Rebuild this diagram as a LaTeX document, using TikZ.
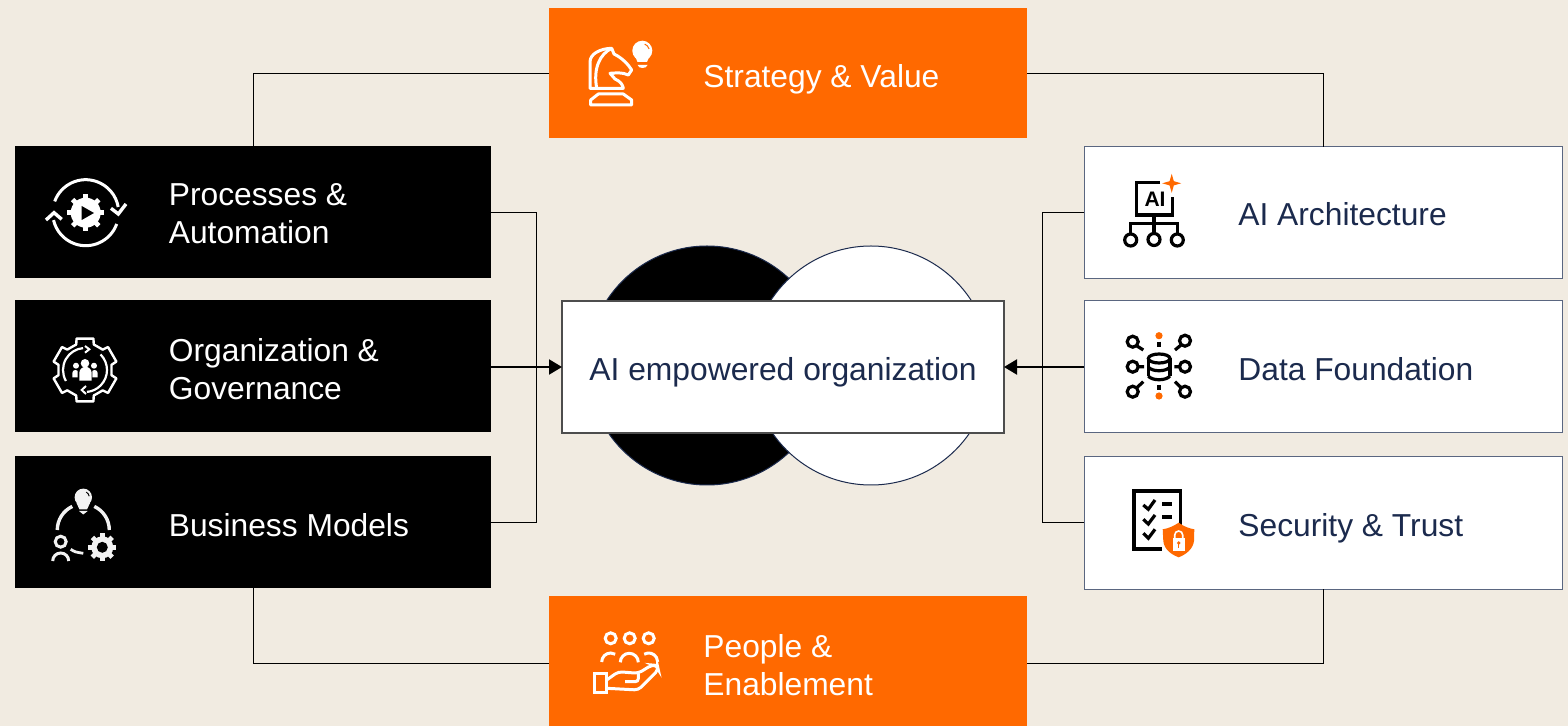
\documentclass[tikz,border=0pt]{standalone}
\usepackage{fontspec}
\setmainfont{Liberation Sans}
\usepackage{tikz}
\usetikzlibrary{arrows.meta}
\definecolor{sand}{HTML}{F1EBE1}
\definecolor{flame}{HTML}{FF6900}
\definecolor{navy}{HTML}{1B2A4D}
\definecolor{slate}{HTML}{5A6680}
\definecolor{ash}{HTML}{4D4D4D}
\def\blackoval{(707,365.5) circle (119.5)}
\def\whiteoval{(871,365.5) circle (119.5)}
\newcommand{\ringpart}[5]{({#1+#3*cos(#4)},{#2+#3*sin(#4)}) arc[start angle=#4,end angle=#5,radius=#3]}
\newcommand{\gearteeth}[5]{\foreach \a in {0,45,...,315}
	\draw[#5,line width=2.4pt,line cap=butt] ({#1+#3*cos(\a)},{#2+#3*sin(\a)}) -- ({#1+#4*cos(\a)},{#2+#4*sin(\a)});}
\tikzset{
	darkbox/.style={fill=black,minimum width=238pt,minimum height=66pt,inner sep=0pt,outer sep=0pt},
	lightbox/.style={fill=white,draw=slate,line width=.5pt,minimum width=239pt,minimum height=66pt,inner sep=0pt,outer sep=0pt},
	flamebox/.style={fill=flame,minimum width=239pt,minimum height=65pt,inner sep=0pt,outer sep=0pt},
	hubbox/.style={fill=white,draw=ash,line width=.6pt,minimum width=221pt,minimum height=66pt,inner sep=0pt,outer sep=0pt,text=navy,text height=16.5pt,text depth=3.3pt,font=\fontsize{15.9}{19}\selectfont},
	caption/.style={anchor=west,align=left,inner sep=0pt,font=\fontsize{15.88}{19.1}\selectfont},
	link/.style={draw=black,line width=.5pt},
	feed/.style={draw=black,line width=1pt,-{Triangle[length=6.5pt,width=7.5pt]}},
	iconw/.style={draw=white,line width=1.5pt},
	iconk/.style={draw=black,line width=1.6pt}
}

\begin{document}
\begin{tikzpicture}[x=.5pt,y=-.5pt]
			\useasboundingbox (0,0) rectangle (1568,726);
			\fill[sand] (0,0) rectangle (1568,726);
			\fill[black,draw=navy,line width=.5pt] \blackoval;
			\fill[white,draw=navy,line width=.5pt] \whiteoval;

			\node[flamebox] (strategy) at (788,73) {};
			\node[flamebox] (people) at (788,661) {};
			\node[darkbox] (process) at (253,212) {};
			\node[darkbox] (governance) at (253,366) {};
			\node[darkbox] (business) at (253,522) {};
			\node[lightbox] (architecture) at (1323,213) {};
			\node[lightbox] (data) at (1323,367) {};
			\node[lightbox] (security) at (1323,523) {};
			\node[hubbox] (hub) at (783,367) {AI empowered organization};

			\node[caption,text=white] (strategytext) at (703,79) {Strategy \& Value};
			\node[caption,text=white] (peopletext) at (703,665) {People \&\\Enablement};
			\node[caption,text=white] (processtext) at (168.5,214) {Processes \&\\Automation};
			\node[caption,text=white] (governancetext) at (168.5,369) {Organization \&\\Governance};
			\node[caption,text=white] (businesstext) at (168.5,525) {Business Models};
			\node[caption,text=navy] (architecturetext) at (1238,214) {AI Architecture};
			\node[caption,text=navy] (datatext) at (1238,369) {Data Foundation};
			\node[caption,text=navy] (securitytext) at (1238,528) {Security \& Trust};

			\draw[link] ([yshift=-.3pt]strategy.west) -| (process.north);
			\draw[link] ([yshift=-.3pt]strategy.east) -| (architecture.north);
			\draw[link] ([yshift=-1pt]people.west) -| (business.south);
			\draw[link] ([yshift=-1pt]people.east) -| (security.south);
			\draw[link] ([yshift=-.5pt]process.east) -- ++(45.5,0) |- ([yshift=-.5pt]business.east);
			\draw[link] (architecture.west) -- ++(-41.5,0) |- (security.west);
			\draw[feed] (governance.east) ++(0,1) -- (hub.west);
			\draw[feed] (data.west) -- (hub.east);

			\fill[white] (85.7,212.7) circle (15);
			\gearteeth{85.7}{212.7}{13}{18.5}{white}
			\fill[black] (81.7,206) -- (94,213) -- (81.7,220) -- cycle;
			\draw[iconw] \ringpart{85.7}{212.7}{33}{200}{350};
			\draw[iconw] \ringpart{85.7}{212.7}{33}{20}{167};
			\draw[iconw,line width=1.7pt] (111,208.3) -- (118.3,214) -- (126,204);
			\draw[iconw,line width=1.7pt] (46,220) -- (54,212.7) -- (61.7,219.3);

			\foreach \a in {30,90,...,330}
				\draw[iconw,line cap=round,line join=round,line width=1.2pt]
					({85+27*cos(\a-19)},{370+27*sin(\a-19)}) -- ({85+32.5*cos(\a-15)},{370+32.5*sin(\a-15)})
					-- ({85+32.5*cos(\a+15)},{370+32.5*sin(\a+15)}) -- ({85+27*cos(\a+19)},{370+27*sin(\a+19)})
					-- ({85+27*cos(\a+41)},{370+27*sin(\a+41)});
			\draw[iconw,line width=1.1pt] \ringpart{85}{370}{22}{150}{265};
			\draw[iconw,line width=1.1pt] \ringpart{85}{370}{22}{-45}{85};
			\draw[iconw,line width=1pt] (85,346) -- (89.3,349.3) -- (85,352.7);
			\draw[iconw,line width=1pt] (86,386) -- (81.7,390) -- (86,394);
			\fill[white] (85,363.3) circle (4.3) (76,365.7) circle (3) (94,365.7) circle (3);
			\fill[white] (79.3,380.7) -- (79.3,373) arc[start angle=180,end angle=360,radius=6.2] -- (91.7,380.7) -- cycle;
			\fill[white] (72.3,377.3) -- (72.3,373) arc[start angle=180,end angle=300,radius=3] -- (77.7,371) -- (77.7,377.3) -- cycle;
			\fill[white] (97.7,377.3) -- (97.7,373) arc[start angle=0,end angle=-120,radius=3] -- (92.3,371) -- (92.3,377.3) -- cycle;

			\fill[white!95!black] (83.3,497.3) circle (8.7);
			\fill[white!95!black] (76.5,503) -- (90,503) -- (87,509.5) -- (79.5,509.5) -- cycle;
			\fill[white!95!black] (79,511) -- (87.7,511) -- (83.3,514.5) -- cycle;
			\draw[black,line width=.5pt] \ringpart{83.3}{497.3}{6}{-60}{-10};
			\draw[draw=white!95!black,line width=1.7pt] \ringpart{83.3}{530}{26}{180}{245};
			\draw[draw=white!95!black,line width=1.7pt] \ringpart{83.3}{530}{26}{295}{360};
			\draw[draw=white!95!black,line width=1.4pt] (70.7,549.3) .. controls (75,552) .. (83.3,553.3);
			\draw[draw=white!95!black,line width=1.5pt] (60.7,541.7) circle (5.5);
			\draw[draw=white!95!black,line width=1.5pt] \ringpart{60.7}{561}{8}{180}{360};
			\fill[white!95!black] (102.3,547.3) circle (11);
			\gearteeth{102.3}{547.3}{9}{14}{white!95!black}
			\fill[black] (102.3,547.3) circle (5.5);

			\draw[iconk] (1160,182.3) -- (1136.7,182.3) -- (1136.7,215) -- (1172.7,215) -- (1172.7,196.7);
			\node[inner sep=0pt,font=\fontsize{10.5}{11}\bfseries\selectfont] (aimark) at (1155,199) {AI};
			\draw[iconk] (1154,215) -- (1154,233.5);
			\draw[iconk] (1130.7,234) -- (1130.7,223.3) -- (1177.3,223.3) -- (1177.3,234);
			\draw[iconk] (1130.7,240) circle (6) (1154,239.5) circle (6) (1177.3,240) circle (6);
			\fill[flame] (1171.7,173.8) -- (1173.8,181.2) -- (1181.2,183.3) -- (1173.8,185.4) -- (1171.7,192.8) -- (1169.6,185.4) -- (1162.2,183.3) -- (1169.6,181.2) -- cycle;

			\draw[iconk] (1148.3,358.5) -- (1148.3,376) (1170,358.5) -- (1170,376);
			\draw[iconk] (1159.15,358.5) ellipse (10.85 and 4.5);
			\draw[iconk] (1148.3,367) .. controls (1152,372) and (1166,372) .. (1170,367);
			\draw[iconk] (1148.3,376) .. controls (1152,381) and (1166,381) .. (1170,376);
			\fill[flame] (1159,335.7) circle (3.6) (1159,396) circle (3.6);
			\draw[iconk,line width=2pt] (1159,341.7) -- (1159,346.7) (1159,385) -- (1159,390);
			\draw[iconk] (1132.7,341.7) circle (5.5) (1185,340.7) circle (5.5) (1132.7,366.7) circle (5.5) (1185,366.7) circle (5.5) (1132.7,391.7) circle (5.5) (1185,391.7) circle (5.5);
			\draw[iconk] (1137,346) -- (1143.3,350) (1181,345) -- (1175,350) (1138.2,366.7) -- (1144,366.7) (1179.5,366.7) -- (1174.3,366.7) (1137,387.5) -- (1143.3,381.7) (1181,387.5) -- (1175,381.7);

			\draw[iconk] (1180.7,526.7) -- (1180.7,491) -- (1134,491) -- (1134,549) -- (1161.7,549);
			\draw[iconk] (1143.3,505) -- (1148.3,509.3) -- (1155,500);
			\draw[iconk] (1143.3,519.3) -- (1148.3,524) -- (1155,515);
			\draw[iconk] (1143.3,533.3) -- (1148.3,538.3) -- (1155,529.3);
			\draw[iconk,line width=2.2pt] (1162.3,504.3) -- (1172.3,504.3) (1162.3,517) -- (1172.3,517);
			\fill[flame] (1178.7,522.7) .. controls (1184,526.5) and (1189,528.5) .. (1194.3,529.3) -- (1194,541) .. controls (1193,549) and (1186,554.5) .. (1178.7,557.3) .. controls (1171,554.5) and (1164,549) .. (1163.3,541) -- (1162.7,529.3) .. controls (1168,528.5) and (1173,526.5) .. (1178.7,522.7) -- cycle;
			\fill[white] (1172.7,538.3) rectangle (1185,551);
			\draw[draw=white,line width=.8pt] (1174.7,538.5) -- (1174.7,535) arc[start angle=180,end angle=360,radius=4] -- (1182.7,538.5);
			\fill[flame] (1178.7,543) circle (1.8);
			\draw[flame,line width=.7pt] (1178.7,543) -- (1178.7,548);

			\draw[iconw,line join=round] (590.7,105) -- (631.7,105) -- (631.7,100) -- (623.3,94) -- (598.3,94) -- (590.7,100) -- cycle;
			\draw[iconw,line join=round] (596.7,88.3) -- (590,88.3) -- (590,62) .. controls (590,54) and (600,48.5) .. (611.7,48.3) -- (614,54) .. controls (622,58) and (628,64) .. (631.7,70) -- (628.3,75) .. controls (622,72) and (616,73) .. (610,73.3) -- (615,79) .. controls (620,81) and (623,85) .. (623.3,88.3) -- cycle;
			\draw[iconw] (611.7,48.3) .. controls (600,54) and (593,68) .. (596.7,88.3);
			\fill[white] (642.3,50.7) circle (10);
			\fill[white] (635,56) -- (649.5,56) -- (647,62) -- (637.5,62) -- cycle;
			\fill[white] (637.7,65) -- (647.5,65) .. controls (647,69) and (638,69) .. (637.7,65) -- cycle;
			\draw[flame,line width=.5pt] \ringpart{642.3}{50.7}{7}{-70}{-15};

			\draw[iconw] (610.7,638.3) circle (5.5) (629.7,638.3) circle (5.5) (648.7,638.3) circle (5.5);
			\draw[iconw] \ringpart{629.3}{662.3}{9}{180}{360};
			\draw[iconw] \ringpart{610.7}{662}{9}{180}{300};
			\draw[iconw] \ringpart{648.7}{662}{9}{240}{360};
			\draw[iconw] (594,673.3) rectangle (606.7,692.7);
			\draw[iconw,rounded corners=2pt] (606.7,680) -- (618.3,671.7) -- (638.3,673.3) -- (651.7,665) -- (657.3,665.5) -- (658.3,670) -- (638.3,690) -- (606.7,688.3);
			\draw[iconw,rounded corners=1.5pt] (625,681.7) -- (638.3,681.7) -- (638.3,673.3);
		\end{tikzpicture}
\end{document}
